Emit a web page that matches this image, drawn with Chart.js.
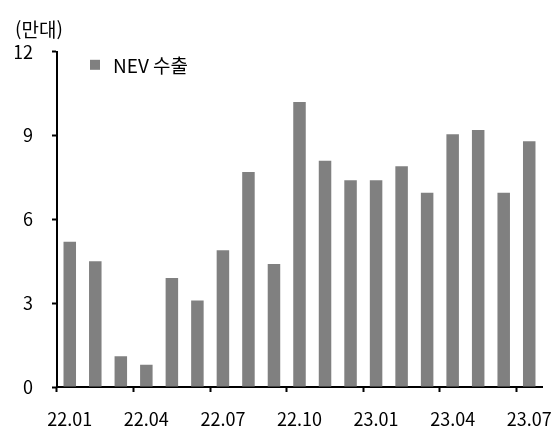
<!DOCTYPE html>
<html lang="ko">
<head>
<meta charset="utf-8">
<script src="https://cdn.jsdelivr.net/npm/chart.js@4"></script>
<style>
    html, body { margin: 0; padding: 0; background: #fff; }
    #wrap { width: 558px; height: 430px; }
</style>
</head>
<body>
<div id="wrap"><canvas id="nevChart"></canvas></div>
<script>
// 데이터
const months = ['22.01', '22.02', '22.03', '22.04', '22.05', '22.06', '22.07', '22.08', '22.09', '22.10',
    '22.11', '22.12', '23.01', '23.02', '23.03', '23.04', '23.05', '23.06', '23.07'];
const nevExport = [5.2, 4.5, 1.1, 0.8, 3.9, 3.1, 4.9, 7.7, 4.4, 10.2, 8.1, 7.4, 7.4, 7.9, 6.95, 9.05, 9.2, 6.95, 8.8];
const seriesName = 'NEV 수출';
const unitLabel = '(만대)';

const FONT = "'Noto Sans CJK KR', 'Noto Sans', sans-serif";
const BAR_COLOR = 'rgba(128, 128, 128, 1)';

// 범례 (차트 영역 안쪽 왼쪽 위)
const insideLegend = {
    id: 'insideLegend',
    afterDraw(chart) {
        const ctx = chart.ctx;
        const area = chart.chartArea;
        const ds = chart.data.datasets[0];
        ctx.save();
        ctx.fillStyle = ds.backgroundColor;
        ctx.fillRect(area.left + 33, area.top + 8, 10, 10);
        ctx.fillStyle = '#000';
        ctx.font = '19px ' + FONT;
        ctx.textBaseline = 'middle';
        ctx.textAlign = 'left';
        ctx.fillText(ds.label, area.left + 56, area.top + 14);
        ctx.restore();
    }
}

const nevChart = document.getElementById('nevChart');
const nevData = {
    labels: months,
    datasets: [
        {
            label: seriesName,
            data: nevExport,
            backgroundColor: BAR_COLOR,
            categoryPercentage: 1,
            barPercentage: 0.49,
        }
    ]
};

new Chart(nevChart, {
    type: 'bar',
    data: nevData,
    options: {
        responsive: true,
        maintainAspectRatio: false,
        animation: false,
        layout: { padding: { left: 15, right: 16, top: 0, bottom: 0 } },
        plugins: {
            legend: { display: false },
            tooltip: { enabled: false },
            title: {
                display: true,
                text: unitLabel,
                align: 'start',
                color: '#000',
                font: { family: FONT, size: 19, weight: 'normal' },
                padding: { top: 18, bottom: 11 },
            },
        },
        scales: {
            x: {
                afterFit(scale) {
                    scale.height = 43;
                    scale.paddingLeft = 0;
                    scale.paddingRight = 0;
                },
                border: { display: true, color: '#000', width: 2 },
                grid: {
                    offset: true,
                    drawOnChartArea: false,
                    drawTicks: true,
                    tickLength: 5,
                    tickWidth: 2,
                    tickColor: (c) => (c.index % 3 === 0 ? '#000' : 'rgba(0,0,0,0)'),
                },
                ticks: {
                    autoSkip: false,
                    maxRotation: 0,
                    minRotation: 0,
                    padding: 16,
                    color: '#000',
                    font: { family: FONT, size: 18 },
                    callback: function (value, index) {
                        return index % 3 === 0 ? this.getLabelForValue(value) : '';
                    },
                },
            },
            y: {
                min: 0,
                max: 12,
                afterFit(scale) { scale.width = 42; },
                border: { display: true, color: '#000', width: 2 },
                grid: {
                    drawOnChartArea: false,
                    drawTicks: true,
                    tickLength: 5,
                    tickWidth: 2,
                    tickColor: '#000',
                },
                ticks: {
                    stepSize: 3,
                    padding: 19,
                    color: '#000',
                    font: { family: FONT, size: 18 },
                },
            },
        },
    },
    plugins: [insideLegend],
});
</script>
</body>
</html>
